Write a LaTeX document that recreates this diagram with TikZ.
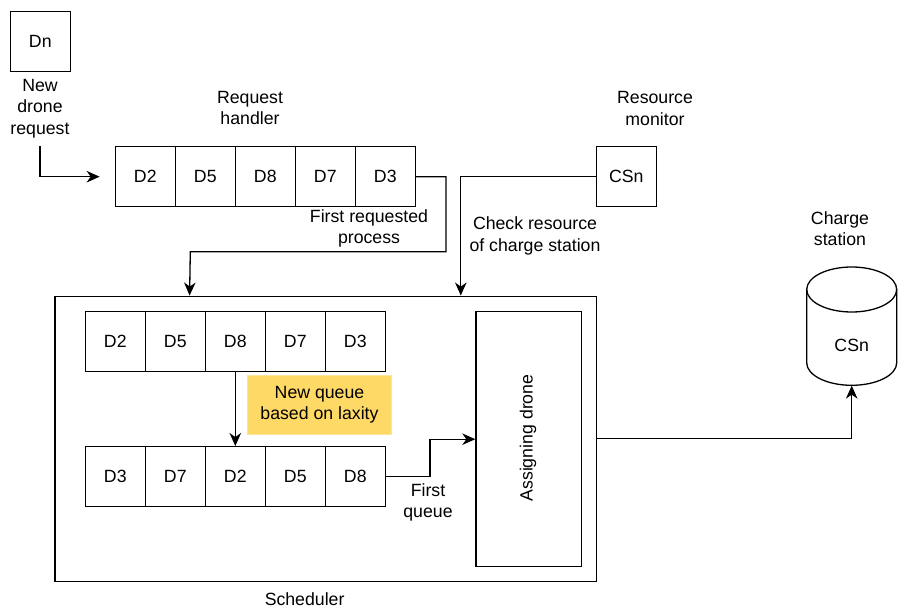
\documentclass[tikz,border=0pt]{standalone}
\usepackage{fontspec}
\setmainfont{Liberation Sans}
\usetikzlibrary{arrows.meta,calc}
\definecolor{qyellow}{HTML}{FFD966}
\definecolor{qyellowline}{HTML}{FFE599}
\tikzset{
  every node/.style={font=\fontsize{17.7}{21.3}\selectfont, text=black},
  cell/.style={draw, line width=1.3pt, minimum width=60pt, minimum height=60pt, inner sep=0pt},
  lbl/.style={align=center, inner sep=0pt},
  arr/.style={line width=1.3pt, -{Stealth[length=13pt,width=11.5pt,inset=4pt]}},
  box/.style={draw, line width=1.3pt, inner sep=0pt},
}
\begin{document}
\begin{tikzpicture}[x=1pt,y=-1pt]
\useasboundingbox (0,0) rectangle (910,612);
% Dn
\node[cell] (dn) at (40.3,41.3) {Dn};
\node[lbl] (ndr) at (40,108.5) {New\\drone\\request};
\coordinate (ndrs) at (40,146);
% request handler
\node[lbl] (rhl) at (250,108) {Request\\handler};
\foreach \i/\t [count=\k] in {0/D2,1/D5,2/D8,3/D7,4/D3}{
  \node[cell] (r\k) at (145.3+60*\i,176.7) {\t};
}
\node[lbl] (frp) at (369,228.5) {First requested\\process};
% resource monitor
\node[lbl] (rml) at (655,108.5) {Resource\\monitor};
\node[cell] (mon) at (626.3,176.7) {CSn};
\node[lbl] (crl) at (535,236) {Check resource\\of charge station};
% scheduler
\node[box, minimum width=541.5pt, minimum height=285pt] (sched) at (325.7,438.7) {};
\node[lbl] (schl) at (304.6,599) {Scheduler};
\foreach \i/\t [count=\k] in {0/D2,1/D5,2/D8,3/D7,4/D3}{
  \node[cell] (t\k) at (115.3+60*\i,341.7) {\t};
}
\foreach \i/\t [count=\k] in {0/D3,1/D7,2/D2,3/D5,4/D8}{
  \node[cell] (b\k) at (115.3+60*\i,476.7) {\t};
}
\node[lbl, fill=qyellow, draw=qyellowline, line width=1pt, minimum width=144pt, minimum height=59pt] (nq) at (319.5,404.7) {New queue\\based on laxity};
\node[lbl] (fq) at (428,502.5) {First\\queue};
\node[box, minimum width=105.5pt, minimum height=255pt] (asg) at (528.7,439.2) {};
\node[lbl, rotate=90] (asgl) at (528,438) {Assigning drone};
% charge station
\node[lbl] (csl) at (840,228.5) {Charge\\station};
\node[inner sep=0pt, minimum width=90pt, minimum height=118.5pt] (cs) at (851.7,326.2) {};
\draw[line width=1.3pt] (851.7,289.5) ellipse [x radius=45, y radius=22.5];
\draw[line width=1.3pt] (806.7,289.5) -- (806.7,362.8) arc[start angle=180, end angle=0, x radius=45, y radius=22.5] -- (896.7,289.5);
\node (csn) at (851.7,345) {CSn};
% connectors
\draw[arr] (ndrs) |- ([xshift=-15pt]r1.west);
\draw[arr] (r5.east) -- ++(30,0) |- (190.3,251.7) -- ($(sched.north west)+(135.3,0)$);
\draw[arr] (mon.west) -| ($(sched.north west)+(406.5,0)$);
\draw[arr] (t3.south) -- (b3.north);
\draw[arr] (b5.east) -- ++(44,0) |- (asg.west);
\draw[arr] (sched.east) -| (cs.south);
\end{tikzpicture}
\end{document}
